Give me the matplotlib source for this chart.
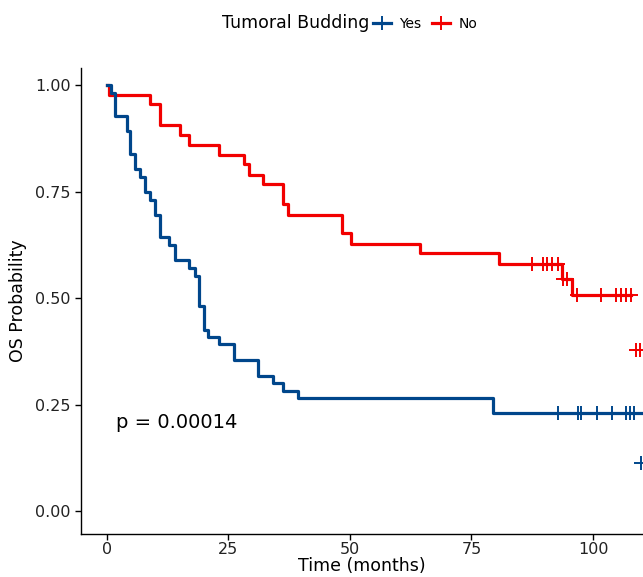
import numpy as np
import matplotlib
matplotlib.use("Agg")
import matplotlib.pyplot as plt
from matplotlib.lines import Line2D

# Kaplan-Meier steps
red_time = [0, 0.6, 9.0, 11.0, 15.0, 17.0, 23.2, 28.2, 29.2, 32.1, 36.2, 37.2,
            48.3, 50.2, 64.4, 80.6, 93.7, 95.6, 107.8]
red_surv = [1.0, 0.977, 0.955, 0.906, 0.883, 0.859, 0.836, 0.814, 0.790, 0.767,
            0.720, 0.696, 0.652, 0.628, 0.605, 0.581, 0.544, 0.507, 0.507]
red_cens_t = [87.5, 89.6, 90.6, 91.6, 92.7, 93.9, 94.6,
              96.6, 101.7, 104.8, 105.8, 106.8, 107.8, 108.8, 109.7]
red_cens_s = [0.581, 0.581, 0.581, 0.581, 0.581, 0.544, 0.544,
              0.507, 0.507, 0.507, 0.507, 0.507, 0.507, 0.378, 0.378]

blue_time = [0, 1.0, 1.8, 4.2, 4.9, 5.9, 6.9, 7.9, 8.9, 9.9, 10.9, 12.9, 14.0,
             17.0, 18.1, 19.1, 20.1, 20.9, 23.1, 26.1, 31.2, 34.2, 36.2, 39.3,
             79.5, 110.0]
blue_surv = [1.0, 0.982, 0.928, 0.892, 0.838, 0.802, 0.785, 0.750, 0.730, 0.695,
             0.644, 0.624, 0.589, 0.570, 0.552, 0.481, 0.425, 0.409, 0.392, 0.354,
             0.317, 0.301, 0.282, 0.265, 0.229, 0.229]
blue_cens_t = [92.7, 96.8, 97.6, 100.7, 103.8, 106.7, 107.6, 108.5, 109.8]
blue_cens_s = [0.229, 0.229, 0.229, 0.229, 0.229, 0.229, 0.229, 0.229, 0.113]

x_ticks = [0, 25, 50, 75, 100]
y_ticks = [0.00, 0.25, 0.50, 0.75, 1.00]

blue = "#00468B"
red = "#F20000"

fig = plt.figure(figsize=(6.43, 5.77), dpi=100)
ax = fig.add_axes([0.126, 0.0745, 0.874, 0.8075])

ax.step(red_time, red_surv, where="post", color=red, lw=2.3)
ax.step(blue_time, blue_surv, where="post", color=blue, lw=2.3)
ax.plot(red_cens_t, red_cens_s, ls="none", marker="+", ms=10, mew=1.4, color=red)
ax.plot(blue_cens_t, blue_cens_s, ls="none", marker="+", ms=10, mew=1.4, color=blue)

ax.text(2, 0.207, "p = 0.00014", fontsize=14, va="center", ha="left")

ax.set_xlim(-5.25, 110.25)
ax.set_ylim(-0.054, 1.04)
ax.set_xticks(x_ticks)
ax.set_xticklabels([str(v) for v in x_ticks])
ax.set_yticks(y_ticks)
ax.set_yticklabels([f"{v:.2f}" for v in y_ticks])
ax.tick_params(labelsize=11.5, length=4, width=1, color="black", labelcolor="#222222")
ax.tick_params(axis="x", pad=2)
for s in ["top", "right"]:
    ax.spines[s].set_visible(False)
for s in ["left", "bottom"]:
    ax.spines[s].set_linewidth(1)
ax.set_xlabel("Time (months)", fontsize=12.5, labelpad=0)
ax.set_ylabel("OS Probability", fontsize=12.5, labelpad=6)

# legend at top
fig.text(222 / 643, 1 - 23 / 577, "Tumoral Budding", fontsize=12.5, va="center", ha="left")
handles = [Line2D([0], [0], color=blue, lw=2.3, marker="+", ms=10, mew=1.4),
           Line2D([0], [0], color=red, lw=2.3, marker="+", ms=10, mew=1.4)]
fig.legend(handles, ["Yes", "No"], loc="center left",
           bbox_to_anchor=(360 / 643, 1 - 24 / 577), ncol=2, frameon=False,
           fontsize=10, handlelength=1.3, handletextpad=0.6, columnspacing=0.8)

fig.savefig("out.png", dpi=100)
